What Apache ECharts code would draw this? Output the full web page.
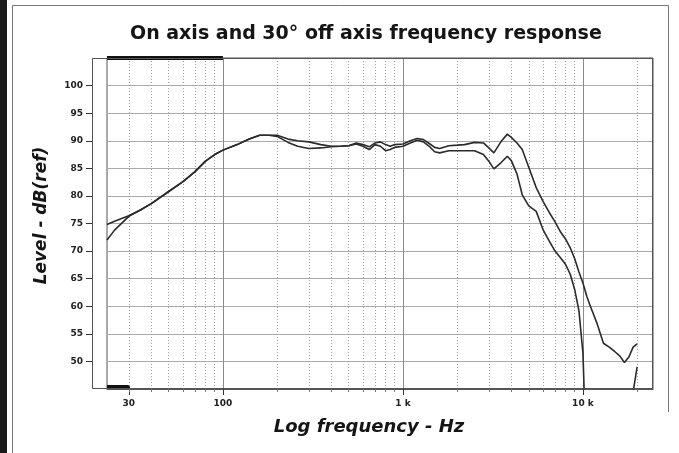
<!DOCTYPE html>
<html><head><meta charset="utf-8">
<script src="https://cdn.jsdelivr.net/npm/echarts@6/dist/echarts.min.js"></script>
<style>html,body{margin:0;padding:0;background:#fff}#c{width:679px;height:453px}</style>
</head><body><div id="c"></div>
<script>
const titleText = 'On axis and 30\u00b0 off axis frequency response';
const xName = 'Log frequency - Hz';
const yName = 'Level - dB(ref)';

const freqs = [22.7,25,30,35,40,50,60,70,80,90,100,120,140,160,180,200,230,260,300,350,400,450,500,550,600,650,700,750,800,850,900,1000,1100,1200,1300,1400,1500,1600,1800,2000,2200,2500,2800,3000,3200,3500,3800,4000,4300,4600,5000,5500,6000,6500,7000,7500,8000,8500,9000,9500,10000,10500,11000,12000,13000,14000,15000,16000,17000,18000,19000,20000];
const onAxis = [74.8,75.4,76.4,77.5,78.6,80.8,82.6,84.4,86.3,87.5,88.3,89.3,90.3,91.0,91.0,91.0,90.3,90.0,89.8,89.3,89.0,89.0,89.1,89.6,89.3,88.9,89.6,89.8,89.3,89.0,89.3,89.4,90.0,90.4,90.2,89.5,88.8,88.6,89.1,89.2,89.3,89.7,89.6,88.7,87.8,89.8,91.2,90.6,89.6,88.4,85.2,81.5,79.0,77.0,75.3,73.5,72.2,70.6,68.6,66.2,64.2,61.8,60.0,56.8,53.3,52.6,51.8,51.0,49.8,50.8,52.6,53.2];
const offAxis = [72.0,73.8,76.3,77.5,78.6,80.8,82.6,84.4,86.3,87.5,88.3,89.3,90.3,91.0,91.0,90.8,89.7,89.0,88.6,88.7,88.9,89.0,89.1,89.4,89.0,88.4,89.3,89.0,88.2,88.4,88.8,89.0,89.6,90.1,89.8,89.0,88.0,87.8,88.2,88.2,88.2,88.2,87.5,86.3,84.9,86.0,87.2,86.4,84.0,80.2,78.2,77.2,73.9,71.8,70.0,68.8,67.6,65.8,63.0,59.2,51.5,30,30,30,30,30,30,30,30,30,44.5,49.0];

const xMin = 22.7, xMax = 24500;
const yMin = 45, yMax = 105, yStep = 5;
const xLabelValues = [30, 100, 1000, 10000];
const xLabelTexts = ['30', '100', '1 k', '10 k'];
const xMajorLines = [100, 1000, 10000];
const xMinorLines = [30,40,50,60,70,80,90,200,300,400,500,600,700,800,900,2000,3000,4000,5000,6000,7000,8000,9000,20000];
const yTickValues = [50,55,60,65,70,75,80,85,90,95,100];
const topBar = [22.7, 100];
const bottomBar = [22.7, 30];

const FONT = 'DejaVu Sans';
const chart = echarts.init(document.getElementById('c'), null, {renderer: 'canvas'});

function xLabel(v) {
  const i = xLabelValues.findIndex(x => Math.abs(x - v) / x < 1e-6);
  return i >= 0 ? xLabelTexts[i] : '';
}

const baseX = {
  type: 'log', logBase: 10, min: xMin, max: xMax, position: 'bottom', gridIndex: 0,
  axisLine: {show: false}, axisLabel: {show: false}, axisTick: {show: false}, splitLine: {show: false}
};

const option = {
  animation: false,
  backgroundColor: '#fff',
  title: {
    text: titleText, left: 130, top: 25, padding: 0,
    textStyle: {fontFamily: FONT, fontWeight: 'bold', fontSize: 19, color: '#151515'}
  },
  grid: {left: 107, right: 26, top: 58, bottom: 64, show: true, borderColor: '#555', borderWidth: 1, backgroundColor: 'transparent'},
  xAxis: [
    Object.assign({}, baseX, {
      name: xName, nameLocation: 'middle', nameGap: 29,
      nameTextStyle: {fontFamily: FONT, fontWeight: 'bold', fontStyle: 'italic', fontSize: 18, color: '#151515', padding: [0, 22, 0, 0]},
      axisLine: {show: true, lineStyle: {color: '#555', width: 1}},
      axisTick: {show: true, customValues: xLabelValues, length: 6, lineStyle: {color: '#333', width: 1}},
      axisLabel: {show: true, customValues: xLabelValues, formatter: xLabel, margin: 10,
        fontFamily: FONT, fontWeight: 'bold', fontSize: 9, color: '#222'}
    }),
    Object.assign({}, baseX, {
      axisTick: {show: false, customValues: xMajorLines},
      splitLine: {show: true, lineStyle: {color: '#8a8a8a', width: 1}}
    }),
    Object.assign({}, baseX, {
      axisTick: {show: true, customValues: xMinorLines, length: 3, lineStyle: {color: '#777'}},
      splitLine: {show: true, lineStyle: {color: '#a0a0a0', width: 1, type: [1, 2]}}
    })
  ],
  yAxis: {
    type: 'value', min: yMin, max: yMax, interval: yStep, offset: 15,
    name: yName, nameLocation: 'middle', nameGap: 42,
    nameTextStyle: {fontFamily: FONT, fontWeight: 'bold', fontStyle: 'italic', fontSize: 17, color: '#151515', padding: [0, 0, 0, 16]},
    axisLine: {show: false},
    axisTick: {show: true, customValues: yTickValues, length: 6, lineStyle: {color: '#333'}},
    axisLabel: {customValues: yTickValues, margin: 9, fontFamily: FONT, fontWeight: 'bold', fontSize: 9, color: '#222'},
    splitLine: {show: true, lineStyle: {color: '#aaaaaa', width: 1}}
  },
  graphic: [
    {type: 'rect', shape: {x: 0, y: 0, width: 7, height: 453}, style: {fill: '#1a1a1a'}, silent: true},
    {type: 'polyline', shape: {points: [[12.5, 453], [12.5, 5.5], [668.5, 5.5], [668.5, 412]]}, style: {stroke: '#777', lineWidth: 1, fill: null}, silent: true},
    {type: 'rect', shape: {x: 92.5, y: 58.5, width: 560, height: 330}, style: {stroke: '#555', fill: null, lineWidth: 1}, silent: true, z: 10}
  ],
  series: [
    {
      name: 'On axis', type: 'line', xAxisIndex: 0, yAxisIndex: 0, showSymbol: false, symbol: 'none',
      data: freqs.map((f, i) => [f, onAxis[i]]),
      lineStyle: {color: '#2b2b2b', width: 1.6}, z: 5,
      markLine: {
        silent: true, symbol: 'none', animation: false, label: {show: false},
        lineStyle: {color: '#111', width: 4, type: 'solid'},
        data: [
          [{coord: [topBar[0], yMax]}, {coord: [topBar[1], yMax]}],
          [{coord: [bottomBar[0], 45.5], lineStyle: {width: 3}}, {coord: [bottomBar[1], 45.5]}],
          [{coord: [bottomBar[1], 45.5], lineStyle: {width: 2}}, {coord: [bottomBar[1], yMin]}]
        ]
      }
    },
    {
      name: '30\u00b0 off axis', type: 'line', xAxisIndex: 0, yAxisIndex: 0, showSymbol: false, symbol: 'none',
      data: freqs.map((f, i) => [f, offAxis[i]]),
      lineStyle: {color: '#2b2b2b', width: 1.6}, z: 5
    }
  ]
};
chart.setOption(option);
</script>
</body></html>
